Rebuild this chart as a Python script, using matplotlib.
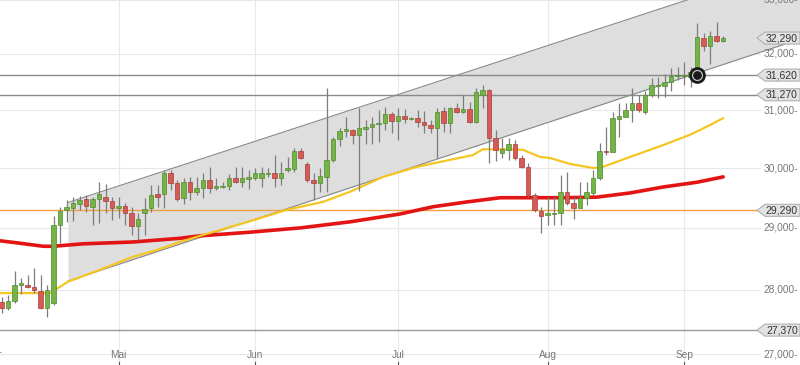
import matplotlib
matplotlib.use("Agg")
import matplotlib.pyplot as plt
from matplotlib.patches import Polygon

plt.rcParams['font.family'] = ['Liberation Sans', 'DejaVu Sans']

# daily candles (open, high, low, close), one per trading day
opens = [27810, 27720, 27830, 28080, 28080, 28050, 27980, 27720, 27790, 29050,
         29300, 29330, 29400, 29480, 29350, 29480, 29510, 29450, 29330, 29360,
         29250, 29030, 29250, 29330, 29560, 29560, 29920, 29750, 29500, 29760,
         29600, 29660, 29800, 29660, 29680, 29700, 29830, 29760, 29820, 29830,
         29830, 29900, 29920, 29830, 29970, 29980, 30290, 30070, 29800, 29750,
         29850, 30140, 30500, 30640, 30650, 30570, 30670, 30710, 30760, 30780,
         30930, 30810, 30900, 30850, 30860, 30790, 30740, 30690, 30980, 30780,
         31040, 30970, 31020, 30790, 31270, 31360, 30520, 30260, 30310, 30410,
         30170, 30020, 29550, 29280, 29210, 29230, 29250, 29600, 29410, 29330,
         29500, 29580, 29830, 30290, 30270, 30850, 30880, 31000, 31130, 30970,
         31270, 31430, 31430, 31500, 31600, 31610, 31590, 31620, 32290, 32150,
         32330, 32240]
highs = [27890, 27920, 28300, 28190, 28240, 28350, 28240, 28080, 29200, 29350,
         29460, 29510, 29530, 29550, 29510, 29760, 29730, 29510, 29510, 29410,
         29350, 29250, 29500, 29710, 29710, 29970, 29970, 29800, 29830, 29850,
         29850, 29920, 30020, 29830, 29760, 29900, 30020, 30020, 29970, 30000,
         30020, 30000, 30220, 30100, 30190, 30340, 30340, 30100, 29920, 30000,
         31390, 30530, 30690, 30880, 30670, 31040, 30830, 30880, 31000, 31060,
         30970, 31040, 31020, 30880, 31000, 30980, 30830, 31040, 31060, 31060,
         31130, 31270, 31140, 31390, 31440, 31380, 30650, 30520, 30520, 30480,
         30220, 30090, 29580, 29350, 29510, 29510, 29880, 29930, 29510, 29760,
         29760, 29970, 30430, 30710, 30970, 31130, 31130, 31390, 31270, 31340,
         31570, 31590, 31640, 31750, 31760, 31860, 31760, 32570, 32380, 32420,
         32590, 32330]
lows = [27640, 27680, 27790, 27940, 28030, 27950, 27700, 27580, 27760, 28750,
        29100, 29110, 29300, 29260, 29050, 29080, 29250, 29130, 29160, 29050,
        28890, 28800, 28890, 29260, 29350, 29330, 29630, 29450, 29400, 29460,
        29550, 29500, 29580, 29630, 29660, 29630, 29750, 29680, 29650, 29800,
        29680, 29850, 29680, 29710, 29930, 29930, 30150, 29760, 29460, 29600,
        29600, 30100, 30380, 30530, 30410, 29610, 30410, 30410, 30450, 30650,
        30600, 30480, 30780, 30830, 30710, 30600, 30600, 30170, 30620, 30600,
        30950, 30950, 30780, 30780, 31040, 30090, 30120, 30170, 30140, 30140,
        30000, 29510, 29260, 28920, 29050, 29050, 29050, 29380, 29150, 29330,
        29380, 29550, 29800, 30220, 30270, 30530, 30880, 30790, 30970, 30930,
        31230, 31210, 31230, 31340, 31530, 31440, 31410, 31570, 32060, 31820,
        32220, 32220]
closes = [27720, 27830, 28080, 28110, 28050, 28000, 27720, 28000, 29050, 29280,
          29350, 29410, 29460, 29360, 29480, 29560, 29450, 29330, 29360, 29250,
          29030, 29150, 29310, 29550, 29510, 29920, 29750, 29480, 29760, 29600,
          29660, 29800, 29660, 29700, 29700, 29830, 29760, 29830, 29850, 29920,
          29920, 29920, 29830, 29920, 30000, 30290, 30170, 29800, 29750, 29870,
          30140, 30500, 30640, 30670, 30570, 30690, 30710, 30760, 30780, 30930,
          30810, 30900, 30850, 30860, 30790, 30740, 30690, 30970, 30780, 31040,
          30970, 31020, 30790, 31320, 31360, 30520, 30310, 30330, 30410, 30170,
          30020, 29550, 29300, 29200, 29250, 29250, 29600, 29410, 29330, 29500,
          29600, 29830, 30290, 30270, 30860, 30900, 31000, 31130, 31000, 31270,
          31440, 31440, 31500, 31600, 31620, 31620, 31670, 32310, 32150, 32330,
          32240, 32290]

# moving averages (candle index, value)
ma_fast_x = [-0.3, 7.4, 7.9, 10.2, 15.1, 20.2, 23.9, 27.4, 30.5, 38.2, 43.9,
             49.4, 53.6, 58.7, 63.9, 69.0, 72.5, 74.0, 77.7, 80.2, 82.8, 84.4,
             87.4, 91.0, 92.5, 96.7, 101.7, 105.9, 109.0, 111.0]
ma_fast = [27950, 27950, 27980, 28130, 28320, 28530, 28640, 28770, 28870, 29110,
           29300, 29430, 29600, 29850, 30020, 30140, 30220, 30320, 30320, 30310,
           30190, 30170, 30070, 30000, 30020, 30190, 30390, 30570, 30740, 30860]
ma_slow_x = [-0.3, 2.8, 6.4, 7.9, 12.5, 20.2, 27.4, 30.5, 38.2, 45.9, 53.6,
             61.3, 66.4, 71.6, 76.7, 81.7, 86.4, 91.6, 96.7, 101.8, 107.0, 111.0]
ma_slow = [28790, 28750, 28700, 28700, 28740, 28770, 28830, 28870, 28930, 29000,
           29100, 29230, 29350, 29430, 29500, 29500, 29500, 29510, 29580, 29680,
           29760, 29850]

# trend channel
chan_x = [10.2, 122.8]
chan_top = [29420, 33690]
chan_bottom = [28140, 32270]

# horizontal levels
levels = [31620, 31270, 29290, 27370]
level_colors = ['#8a8a8a', '#8a8a8a', '#f0a040', '#9a9a9a']
last_price = 32290

y_ticks = [27000, 28000, 29000, 30000, 31000, 32000, 33000]
month_pos = [-1, 18, 39, 61, 84, 105]
month_labels = ['Apr', 'Mai', 'Jun', 'Jul', 'Aug', 'Sep']

W, H = 800, 365
fig = plt.figure(figsize=(W / 100, H / 100), dpi=100)
ax = fig.add_axes([0, 0, 1, 1])
ax.set_yscale('log')
ax.set_xlim(-1.7 / 6.5, (W - 1.7) / 6.5)
ax.set_ylim(26835, 32993)
ax.axis('off')

# grid
for v in y_ticks:
    ax.axhline(v, xmax=760 / W, color='#e8e8e8', lw=0.8, zorder=0)
for m in month_pos:
    ax.axvline(m, color='#e8e8e8', lw=0.8, zorder=0)

# channel
ax.fill_between(chan_x, chan_bottom, chan_top, color='#dedede', zorder=1, lw=0)
ax.plot(chan_x, chan_top, color='#888888', lw=0.8, zorder=2)
ax.plot(chan_x, chan_bottom, color='#888888', lw=0.8, zorder=2)

# level lines
for v, c in zip(levels, level_colors):
    ax.axhline(v, xmax=757 / W, color=c, lw=1.0, zorder=3)

# moving averages
ax.plot(ma_slow_x, ma_slow, color='#e31414', lw=2.6, zorder=4, solid_capstyle='round')
ax.plot(ma_fast_x, ma_fast, color='#f5c623', lw=1.6, zorder=4, solid_capstyle='round')

# candles
idx = list(range(len(opens)))
ax.vlines(idx, lows, highs, color='#7d7d7d', lw=0.9, zorder=5)
for i, o, c in zip(idx, opens, closes):
    up = c >= o
    face = '#74b446' if up else '#d65a55'
    edge = '#4f8a2c' if up else '#a83c38'
    lo, hi = min(o, c), max(o, c)
    if hi - lo < 15:
        hi = lo + 15
    ax.bar(i, hi - lo, bottom=lo, width=0.68, color=face, edgecolor=edge,
           lw=0.5, zorder=6)

# marker on breakout candle
ax.plot(107, 31620, 'o', ms=11, mfc='#1a1a1a', mec='#1a1a1a', zorder=8)
ax.plot(107, 31620, 'o', ms=7, mfc='none', mec='#c8c8c8', mew=1.0, zorder=9)
ax.plot(107, 31620, 'o', ms=5, mfc='#1a1a1a', mec='#1a1a1a', zorder=9)

# y labels
ytr = ax.get_yaxis_transform()
for v in y_ticks:
    ax.text(798 / W, v, f"{v:,}-", transform=ytr, ha='right', va='center',
            fontsize=7.3, color='#777777', zorder=10)

# value tags
inv = ax.transAxes.inverted()
for v in [last_price] + levels:
    fy = inv.transform(ax.transData.transform((0, v)))[1]
    hh = 6 / H
    pts = [(757 / W, fy), (765 / W, fy + hh), (1.0, fy + hh), (1.0, fy - hh), (765 / W, fy - hh)]
    ax.add_patch(Polygon(pts, closed=True, transform=ax.transAxes, fc='#e2e2e2',
                         ec='#b0b0b0', lw=0.8, zorder=11))
    ax.text(782 / W, fy, f"{v:,}", transform=ax.transAxes, ha='center', va='center',
            fontsize=7.5, color='#333333', zorder=12)

# month labels
xtr = ax.get_xaxis_transform()
for m, lab in zip(month_pos, month_labels):
    ax.text(m, 1 - 355 / H, lab, transform=xtr, ha='center', va='center',
            fontsize=7.3, color='#777777', zorder=10)
    ax.plot([m, m], [0, 3.5 / H], transform=xtr, color='#555555', lw=0.8, zorder=10)

fig.savefig('out.png', dpi=100)
